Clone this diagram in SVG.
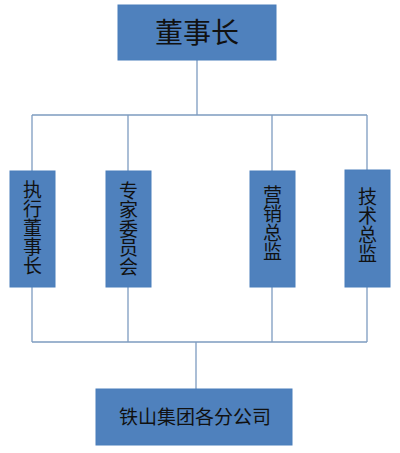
<svg xmlns="http://www.w3.org/2000/svg" width="400" height="453" viewBox="0 0 400 453">
<style>
.box{fill:#4F81BD;stroke:#4A7EBB;stroke-width:1}
.t{font-family:"Noto Sans CJK SC","Noto Sans CJK JP",sans-serif;fill:#111;text-anchor:middle}
.v{font-size:19px}
.vert{writing-mode:vertical-rl;text-orientation:upright}
.line{stroke:#7E9CC0;stroke-width:1.3;fill:none}
</style>
<rect width="400" height="453" fill="#fff"/>
<g id="connectors">
<path class="line" d="M197 60V115M32 115H367M32 115V171M128 115V171M272 115V171M367 115V171"/>
<path class="line" d="M32 287V342M128 287V342M272 287V342M367 287V342M32 342H367M196 342V389"/>
</g>
<g id="n-chairman"><rect class="box" x="118" y="5" width="158" height="55"/><text class="t" x="197" y="43" font-size="28">董事长</text></g>
<g id="n-exec"><rect class="box" x="10" y="171" width="45" height="116"/><text class="t v vert" x="32.5" y="227.5">执行董事长</text></g>
<g id="n-expert"><rect class="box" x="106" y="171" width="45" height="116"/><text class="t v vert" x="128.5" y="229">专家委员会</text></g>
<g id="n-marketing"><rect class="box" x="250" y="171" width="45" height="116"/><text class="t v vert" x="272.5" y="223.5">营销总监</text></g>
<g id="n-tech"><rect class="box" x="345" y="170" width="45" height="117"/><text class="t v vert" x="367.5" y="225">技术总监</text></g>
<g id="n-branches"><rect class="box" x="96" y="389" width="196" height="56"/><text class="t v" x="195" y="424">铁山集团各分公司</text></g>
</svg>
